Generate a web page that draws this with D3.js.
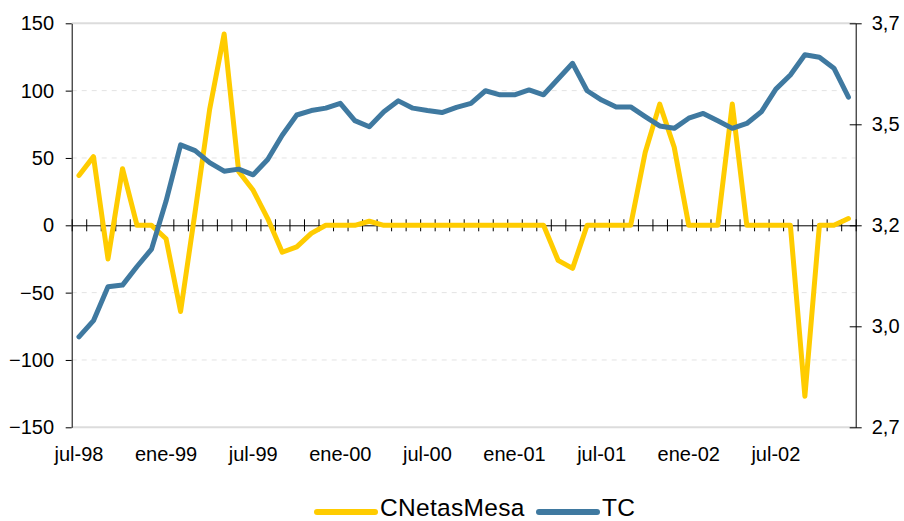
<!DOCTYPE html>
<html>
<head>
<meta charset="utf-8">
<script src="https://cdn.jsdelivr.net/npm/d3@7"></script>
<style>
    body { margin: 0; background: #fff; }
    text { font-family: "Liberation Sans", Arial, sans-serif; fill: #000; }
</style>
</head>
<body>
<div id="chart"></div>
<script>
let months = [
    "jul-98", "ago-98", "sep-98", "oct-98", "nov-98", "dic-98",
    "ene-99", "feb-99", "mar-99", "abr-99", "may-99", "jun-99", "jul-99", "ago-99", "sep-99", "oct-99", "nov-99", "dic-99",
    "ene-00", "feb-00", "mar-00", "abr-00", "may-00", "jun-00", "jul-00", "ago-00", "sep-00", "oct-00", "nov-00", "dic-00",
    "ene-01", "feb-01", "mar-01", "abr-01", "may-01", "jun-01", "jul-01", "ago-01", "sep-01", "oct-01", "nov-01", "dic-01",
    "ene-02", "feb-02", "mar-02", "abr-02", "may-02", "jun-02", "jul-02", "ago-02", "sep-02", "oct-02", "nov-02", "dic-02"
];

// CNetasMesa (eje izquierdo)
let cnetas = [
    37, 51, -25, 42, 0, 0,
    -10, -64, 10, 86, 142, 40, 26, 5, -20, -16, -6, 0,
    0, 0, 3, 0, 0, 0, 0, 0, 0, 0, 0, 0,
    0, 0, 0, -26, -32, 0, 0, 0, 0, 54, 90, 58,
    0, 0, 0, 90, 0, 0, 0, 0, -127, 0, 0, 5
];

// TC (eje derecho)
let tc = [
    2.924, 2.964, 3.048, 3.052, 3.098, 3.141,
    3.260, 3.399, 3.385, 3.355, 3.334, 3.339, 3.325, 3.363, 3.423, 3.473, 3.484, 3.490,
    3.502, 3.459, 3.444, 3.481, 3.508, 3.490, 3.484, 3.479, 3.492, 3.502, 3.533, 3.523,
    3.523, 3.535, 3.523, 3.562, 3.601, 3.533, 3.510, 3.493, 3.493, 3.469, 3.446, 3.440,
    3.465, 3.477, 3.459, 3.440, 3.452, 3.481, 3.537, 3.572, 3.622, 3.616, 3.589, 3.517
];

let leftTicks = [-150, -100, -50, 0, 50, 100, 150];
let rightTicks = [2.7, 2.95, 3.2, 3.45, 3.7];
let seriesNames = ["CNetasMesa", "TC"];
let colors = ["#ffcc00", "#3f79a0"];

let margin = { top: 23.3, right: 48.3, bottom: 93.7, left: 71.7 };
let width = 904 - margin.left - margin.right;
let height = 521 - margin.top - margin.bottom;

let svg = d3.select('#chart')
    .append('svg')
    .attr('width', 904)
    .attr('height', 521)
    .append('g')
    .attr('transform', 'translate(' + margin.left + ',' + margin.top + ')');

let x = d3.scaleBand().domain(months).range([0, width]).padding(0);
let xi = d3.scaleLinear().domain([0, months.length]).range([0, width]);
let y = d3.scaleLinear().domain([-150, 150]).range([height, 0]);
let y2 = d3.scaleLinear().domain([2.7, 3.7]).range([height, 0]);
let es = d3.formatLocale({ decimal: ",", thousands: ".", grouping: [3], currency: ["", ""] });

// grid
svg.selectAll('.grid')
    .data(leftTicks.filter(function (d) { return Math.abs(d) != 150 && d != 0; }))
    .enter()
    .append('line')
    .attr('x1', 0).attr('x2', width)
    .attr('y1', function (d) { return y(d); })
    .attr('y2', function (d) { return y(d); })
    .style('stroke', '#e3e3e3')
    .style('stroke-dasharray', '5,5');

svg.selectAll('.border')
    .data([150, -150])
    .enter()
    .append('line')
    .attr('x1', 0).attr('x2', width)
    .attr('y1', function (d) { return y(d); })
    .attr('y2', function (d) { return y(d); })
    .style('stroke', '#dcdcdc')
    .style('stroke-width', 2);

// left axis
let gl = svg.append('g')
    .call(d3.axisLeft(y).tickValues(leftTicks).tickSize(6).tickSizeOuter(0).tickPadding(11.7));
gl.selectAll('text').style('font-size', '20px');

// right axis
let gr = svg.append('g')
    .attr('transform', 'translate(' + width + ',0)')
    .call(d3.axisRight(y2).tickValues(rightTicks).tickSize(6).tickSizeOuter(0).tickPadding(10)
        .tickFormat(es.format('.1f')));
gr.selectAll('.tick line').attr('x1', -6);
gr.selectAll('text').style('font-size', '20px');

// zero axis with cross ticks
let gz = svg.append('g')
    .attr('transform', 'translate(0,' + y(0) + ')')
    .call(d3.axisBottom(xi).tickValues(d3.range(0, months.length + 1)).tickSize(6).tickSizeOuter(0).tickFormat(''));
gz.selectAll('.tick line').attr('y1', -6);

// month labels
let gb = svg.append('g')
    .attr('transform', 'translate(0,' + height + ')')
    .call(d3.axisBottom(x).tickValues(months.filter(function (d, i) { return i % 6 == 0; })).tickSize(0).tickPadding(19.5));
gb.select('.domain').remove();
gb.selectAll('text').style('font-size', '20px');

svg.selectAll('.domain, .tick line').style('stroke', '#000');

// lines
let cx = function (d, i) { return x(months[i]) + x.bandwidth() / 2; };

svg.append('path')
    .datum(cnetas)
    .attr('d', d3.line().x(cx).y(function (d) { return y(d); }))
    .style('fill', 'none')
    .style('stroke', colors[0])
    .style('stroke-width', 5)
    .style('stroke-linejoin', 'round')
    .style('stroke-linecap', 'round');

svg.append('path')
    .datum(tc)
    .attr('d', d3.line().x(cx).y(function (d) { return y2(d); }))
    .style('fill', 'none')
    .style('stroke', colors[1])
    .style('stroke-width', 5)
    .style('stroke-linejoin', 'round')
    .style('stroke-linecap', 'round');

// legend
let legend = d3.select('svg').append('g');
let legX = [317, 539];
seriesNames.forEach(function (name, i) {
    legend.append('line')
        .attr('x1', legX[i]).attr('x2', legX[i] + 58)
        .attr('y1', 512).attr('y2', 512)
        .style('stroke', colors[i])
        .style('stroke-width', 6)
        .style('stroke-linecap', 'round');
    legend.append('text')
        .attr('x', legX[i] + 63)
        .attr('y', 515.5)
        .style('font-size', '24.5px')
        .style('letter-spacing', '0.3px')
        .text(name);
});
</script>
</body>
</html>
